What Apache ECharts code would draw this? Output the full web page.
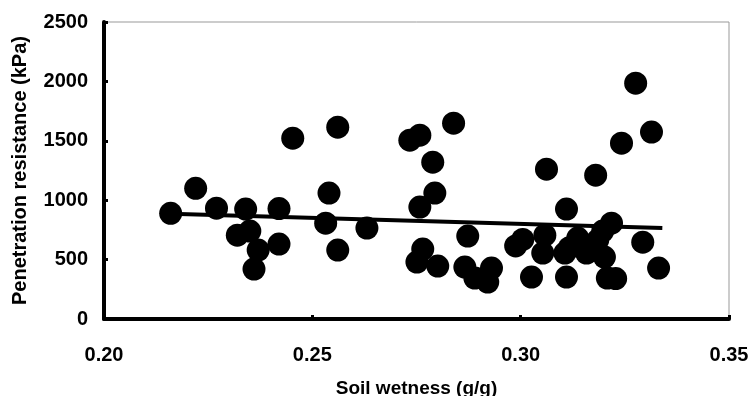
<!DOCTYPE html>
<html>
<head>
<meta charset="utf-8">
<script src="https://cdn.jsdelivr.net/npm/echarts@6/dist/echarts.min.js"></script>
<style>html,body{margin:0;padding:0;background:#fff}#c{width:748px;height:396px}</style>
</head>
<body>
<div id="c"></div>
<script>
const wetness = [0.216,0.222,0.227,0.234,0.242,0.232,0.235,0.237,0.242,0.236,
  0.2453,0.2561,0.2540,0.2532,0.2561,0.2631,0.2734,0.2758,0.2789,0.2758,
  0.2794,0.2765,0.2751,0.2801,0.2839,0.2873,0.2866,0.2890,0.2921,0.2930,
  0.2988,0.3005,0.3026,0.3110,0.3208,0.3228,0.3276,0.3314,0.3242,0.3062,
  0.3180,0.3110,0.3218,0.3293,0.3331,0.3058,0.3053,0.3106,0.3137,0.3158,
  0.3201,0.3185,0.3197,0.3117];
const resistance = [890,1100,933,925,930,706,740,580,631,420,
  1522,1615,1060,807,580,765,1505,1547,1320,942,
  1060,589,479,446,1648,698,437,345,311,429,
  615,670,353,353,345,340,1985,1574,1480,1261,
  1211,925,807,647,429,706,555,555,681,555,
  521,664,740,600];
const trendX = [0.216, 0.334];
const trendY = [885, 765];
const xTicks = [0.20, 0.25, 0.30, 0.35];
const yTicks = [0, 500, 1000, 1500, 2000, 2500];

const pts = wetness.map((w, i) => [w, resistance[i]]);
const trend = trendX.map((w, i) => [w, trendY[i]]);
const font = 'Liberation Sans, Arial, sans-serif';

const chart = echarts.init(document.getElementById('c'), null, {renderer: 'canvas'});
chart.setOption({
  animation: false,
  backgroundColor: '#fff',
  grid: {left: 104, right: 19, top: 22, bottom: 77, show: true, borderColor: '#999', borderWidth: 1,
    containLabel: false, outerBoundsMode: 'none'},
  xAxis: {
    type: 'value', min: xTicks[0], max: xTicks[xTicks.length-1], interval: 0.05,
    name: 'Soil wetness (g/g)', nameLocation: 'middle', nameGap: 60,
    nameTextStyle: {fontFamily: font, fontWeight: 'bold', fontSize: 19, color: '#000'},
    axisLine: {show: true, lineStyle: {color: '#000', width: 4}},
    axisTick: {show: true, inside: true, length: 4, lineStyle: {color: '#000', width: 3}},
    axisLabel: {fontFamily: font, fontWeight: 'bold', fontSize: 20, color: '#000', margin: 26,
      formatter: v => v.toFixed(2)},
    splitLine: {show: false}
  },
  yAxis: {
    type: 'value', min: yTicks[0], max: yTicks[yTicks.length-1], interval: 500,
    name: 'Penetration resistance (kPa)', nameLocation: 'middle', nameGap: 74, nameRotate: 90,
    nameTextStyle: {fontFamily: font, fontWeight: 'bold', fontSize: 20, color: '#000'},
    axisLine: {show: true, lineStyle: {color: '#000', width: 4}},
    axisTick: {show: true, inside: true, length: 4, lineStyle: {color: '#000', width: 3}},
    axisLabel: {fontFamily: font, fontWeight: 'bold', fontSize: 20, color: '#000', margin: 16,
      formatter: v => String(v)},
    splitLine: {show: false}
  },
  series: [
    {type: 'scatter', data: pts, symbol: 'circle', symbolSize: 23,
     itemStyle: {color: '#000', opacity: 1}, z: 2},
    {type: 'line', data: trend, symbol: 'none', lineStyle: {color: '#000', width: 4}, z: 3}
  ]
});
</script>
</body>
</html>
